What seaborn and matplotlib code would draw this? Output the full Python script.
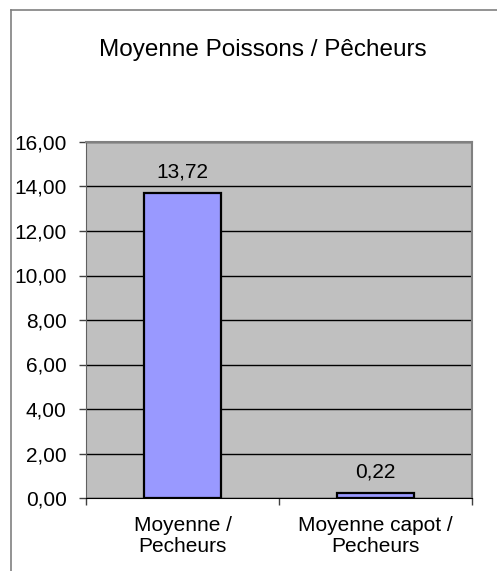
import matplotlib
matplotlib.use("Agg")
import matplotlib.pyplot as plt
from matplotlib.lines import Line2D
import seaborn as sns
import pandas as pd

categories = ["Moyenne /\nPecheurs", "Moyenne capot /\nPecheurs"]
values = [13.72, 0.22]
y_ticks = [0, 2, 4, 6, 8, 10, 12, 14, 16]

def fr(v):
    return f"{v:.2f}".replace(".", ",")

plt.rcParams["font.family"] = ["Liberation Sans", "DejaVu Sans"]

W, H = 497, 571
fig = plt.figure(figsize=(W / 100, H / 100), dpi=100)
fig.patch.set_facecolor("white")

# outer chart border (only top and left visible in the reference)
fig.add_artist(Line2D([11 / W, 11 / W], [0, 1 - 10 / H], color="#808080", lw=1.2))
fig.add_artist(Line2D([11 / W, 1], [1 - 10 / H, 1 - 10 / H], color="#808080", lw=1.2))

ax = fig.add_axes([86 / W, 1 - 498 / H, (472 - 86) / W, (498 - 142) / H])
ax.set_facecolor("#C0C0C0")

df = pd.DataFrame({"cat": categories, "val": values})
sns.barplot(data=df, x="cat", y="val", color="#9999FF", width=0.4,
            edgecolor="black", linewidth=1.6, saturation=1, ax=ax, zorder=3)

ax.set_ylim(0, 16)
ax.set_xlim(-0.5, 1.5)
ax.set_yticks(y_ticks)
ax.set_yticklabels([fr(t) for t in y_ticks])
ax.yaxis.grid(True, color="black", lw=1)
ax.set_axisbelow(True)
ax.set_xlabel("")
ax.set_ylabel("")

ax.set_xticks([-0.5, 0.5, 1.5], minor=False)
ax.set_xticklabels([])
ax.set_xticks([0, 1], minor=True)
ax.set_xticklabels(categories, minor=True, fontsize=15, linespacing=1.15)
ax.tick_params(axis="x", which="major", length=5, width=1, direction="out", color="#404040")
ax.tick_params(axis="x", which="minor", length=0, pad=13)
ax.tick_params(axis="y", length=5, width=1, direction="out", color="#404040", labelsize=15, pad=9)

for s in ["top", "right"]:
    ax.spines[s].set_color("#808080")
    ax.spines[s].set_linewidth(1.5)
ax.spines["left"].set_color("#606060")
ax.spines["bottom"].set_color("black")
for s in ax.spines.values():
    s.set_zorder(4)

for i, v in enumerate(values):
    ax.annotate(fr(v), (i, v), xytext=(0, 8), textcoords="offset points",
                ha="center", va="bottom", fontsize=15)

fig.text(263 / W, 1 - 50 / H, "Moyenne Poissons / Pêcheurs", ha="center", va="center", fontsize=17.5)

fig.savefig("out.png", dpi=100)
